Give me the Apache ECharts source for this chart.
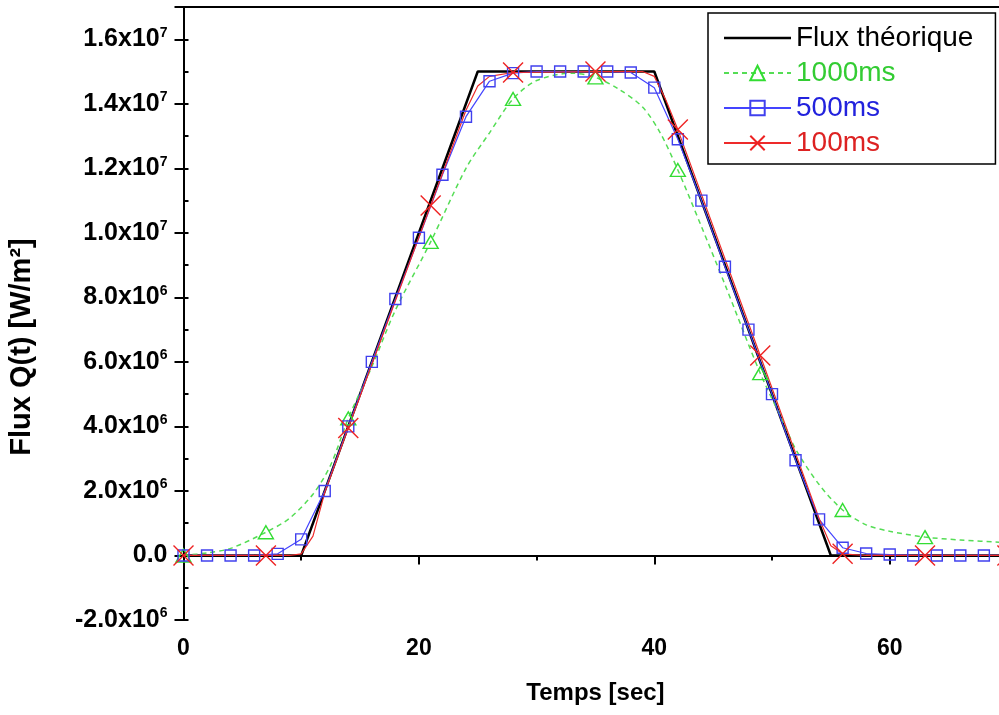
<!DOCTYPE html>
<html>
<head>
<meta charset="utf-8">
<script src="https://cdn.jsdelivr.net/npm/echarts@6/dist/echarts.min.js"></script>
<style>
  html, body { margin: 0; padding: 0; background: #fff; }
  #chart { width: 999px; height: 715px; }
</style>
</head>
<body>
<div id="chart"></div>
<script>
// theoretical flux (trapezoid)
const theoT = [0, 10, 25, 40, 55, 70];
const theoQ = [0, 0, 1.5e7, 1.5e7, 0, 0];

// 1000ms reconstruction (triangles every 7 s)
const t1000 = [0, 2, 4, 7, 9, 11, 12.5, 14, 16, 18, 21, 24, 26, 28, 30, 33, 35, 37, 39, 40.5, 42, 44, 46, 49, 51, 52, 54, 56, 58, 60, 63, 66, 70];
const q1000 = [0, 0.08e6, 0.22e6, 0.72e6, 1.15e6, 1.9e6, 2.8e6, 4.25e6, 5.85e6, 7.6e6, 9.72e6, 12.0e6, 13.1e6, 14.15e6, 14.72e6, 14.95e6, 14.82e6, 14.45e6, 13.9e6, 13.1e6, 11.95e6, 10.2e6, 8.4e6, 5.65e6, 4.1e6, 3.3e6, 2.2e6, 1.41e6, 0.95e6, 0.75e6, 0.57e6, 0.48e6, 0.4e6];

// 500ms reconstruction (squares every 2 s)
const t500 = [0, 2, 4, 6, 8, 10, 12, 14, 16, 18, 20, 22, 24, 26, 28, 30, 32, 34, 36, 38, 40, 42, 44, 46, 48, 50, 52, 54, 56, 58, 60, 62, 64, 66, 68, 70];
const q500 = [0, 0, 0, 0, 0.05e6, 0.5e6, 2.0e6, 4.0e6, 6.0e6, 7.95e6, 9.85e6, 11.8e6, 13.6e6, 14.7e6, 14.95e6, 15.0e6, 15.0e6, 15.0e6, 15.0e6, 14.97e6, 14.5e6, 12.9e6, 11.0e6, 8.95e6, 7.0e6, 5.0e6, 2.95e6, 1.12e6, 0.24e6, 0.06e6, 0.03e6, 0, 0, 0, 0, 0];

// 100ms reconstruction (crosses every 7 s)
const t100 = [0, 7, 9, 10, 11, 12, 14, 21, 24, 25, 26, 28, 35, 39, 40, 41, 42, 49, 54, 55, 56, 58, 63, 70];
const q100 = [0, 0, 0, 0.05e6, 0.6e6, 1.95e6, 3.95e6, 10.85e6, 13.8e6, 14.55e6, 14.85e6, 14.97e6, 15.0e6, 15.0e6, 14.85e6, 14.1e6, 13.2e6, 6.2e6, 1.15e6, 0.3e6, 0.05e6, 0, 0, 0];

// tick positions on the time axis
const xMajorTicks = [0, 20, 40, 60];
const xMinorTicks = [0, 10, 20, 30, 40, 50, 60];

const FONT = '"Liberation Sans", Arial, sans-serif';
const crossPath = 'path://M0,0L20,20M20,0L0,20';
// plain line icon for the theoretical curve in the legend
const barIcon = 'path://M0,0M0,7.75L67,7.75L67,10.25L0,10.25ZM67,18';

// only every 7th second carries a marker
const markEvery7 = (ts, qs) => ts.map((t, i) => (
  t % 7 === 0 ? [t, qs[i]] : { value: [t, qs[i]], symbol: 'none' }
));
const pairs = (ts, qs) => ts.map((t, i) => [t, qs[i]]);

const yLabel = (v) => {
  if (v === 0) return '{m|0.0}';
  if (v > 1.65e7) return '';
  const e = Math.abs(v) >= 1e7 ? 7 : 6;
  return '{m|' + (v / Math.pow(10, e)).toFixed(1) + 'x10}{s|' + e + '}';
};

const chart = echarts.init(document.getElementById('chart'));

const tickStyle = { color: '#000', width: 2 };
const labelFont = { fontSize: 23, fontWeight: 'bold', color: '#000', fontFamily: FONT };
const X_MAX = 70; // the plot runs a little past the right edge of the picture

const option = {
  animation: false,
  backgroundColor: '#fff',
  grid: { left: 183.5, top: 7, right: -8.4, bottom: 95, outerBoundsMode: 'none' },
  xAxis: [
    {
      type: 'value', min: 0, max: X_MAX,
      axisLine: { lineStyle: tickStyle },
      axisTick: { length: 9, lineStyle: tickStyle, customValues: xMajorTicks },
      axisLabel: Object.assign({ margin: 17, customValues: xMajorTicks }, labelFont),
      splitLine: { show: false },
      name: 'Temps [sec]', nameLocation: 'middle', nameGap: 61,
      nameTextStyle: { fontSize: 24, fontWeight: 'bold', color: '#000', fontFamily: FONT },
    },
    {
      type: 'value', min: 0, max: X_MAX, position: 'bottom',
      axisLine: { show: false },
      axisTick: { length: 5, lineStyle: tickStyle, customValues: xMinorTicks },
      axisLabel: { show: false },
      splitLine: { show: false },
    },
    {
      // top frame line
      type: 'value', min: 0, max: X_MAX, position: 'top',
      axisLine: { lineStyle: tickStyle },
      axisTick: { show: false },
      axisLabel: { show: false },
      splitLine: { show: false },
    },
  ],
  yAxis: [
    {
      type: 'value', min: -2e6, max: 1.7e7, interval: 2e6,
      axisLine: { lineStyle: tickStyle },
      axisTick: { length: 9, lineStyle: tickStyle },
      axisLabel: {
        margin: 16,
        formatter: yLabel,
        rich: {
          m: { fontSize: 25, fontWeight: 'bold', color: '#000', fontFamily: FONT, lineHeight: 27 },
          s: { fontSize: 14, fontWeight: 'bold', color: '#000', fontFamily: FONT, verticalAlign: 'top', lineHeight: 14 },
        },
      },
      splitLine: { show: false },
    },
    {
      type: 'value', min: -2e6, max: 1.7e7, interval: 1e6,
      axisLine: { show: false },
      axisTick: { length: 5, lineStyle: tickStyle },
      axisLabel: { show: false },
      splitLine: { show: false },
    },
  ],
  legend: {
    orient: 'vertical', left: 708, top: 13,
    padding: [11, 22, 7, 15], itemGap: 7,
    itemWidth: 67, itemHeight: 18,
    borderColor: '#000', borderWidth: 1.5,
    backgroundColor: '#fff',
    textStyle: { fontSize: 28, fontFamily: FONT, color: '#000' },
    data: [
      { name: 'Flux théorique', icon: barIcon, textStyle: { color: '#000' } },
      { name: '1000ms', textStyle: { color: '#33cc33' } },
      { name: '500ms', textStyle: { color: '#2222dd' } },
      { name: '100ms', textStyle: { color: '#dd2222' } },
    ],
  },
  graphic: [
    {
      type: 'text', x: 22, y: 347, rotation: Math.PI / 2,
      style: {
        text: 'Flux Q(t) [W/m²]', fontSize: 29, fontWeight: 'bold',
        fontFamily: FONT, fill: '#000', align: 'center', verticalAlign: 'middle',
      },
    },
  ],
  series: [
    {
      name: 'Flux théorique', type: 'line', symbol: 'none',
      data: pairs(theoT, theoQ),
      lineStyle: { color: '#000', width: 2.5 },
      itemStyle: { color: '#000' },
      emphasis: { disabled: true },
    },
    {
      name: '1000ms', type: 'line', smooth: 0.3,
      symbol: 'triangle', symbolSize: [15, 13], showAllSymbol: true,
      data: markEvery7(t1000, q1000),
      lineStyle: { color: '#55dd55', width: 1.5, type: [5, 4] },
      itemStyle: { color: 'rgba(0,0,0,0)', borderColor: '#33dd33', borderWidth: 1.4 },
      emphasis: { disabled: true },
    },
    {
      name: '500ms', type: 'line',
      symbol: 'rect', symbolSize: 11, showAllSymbol: true,
      data: pairs(t500, q500),
      lineStyle: { color: '#4444ff', width: 1.2 },
      itemStyle: { color: 'rgba(0,0,0,0)', borderColor: '#4040ee', borderWidth: 1.4 },
      emphasis: { disabled: true },
    },
    {
      name: '100ms', type: 'line',
      symbol: crossPath, symbolSize: 20, showAllSymbol: true,
      data: markEvery7(t100, q100),
      lineStyle: { color: '#ee2a2a', width: 1.2 },
      itemStyle: { color: 'rgba(0,0,0,0)', borderColor: '#ee2222', borderWidth: 1.4 },
      emphasis: { disabled: true },
    },
  ],
};

chart.setOption(option);
</script>
</body>
</html>
